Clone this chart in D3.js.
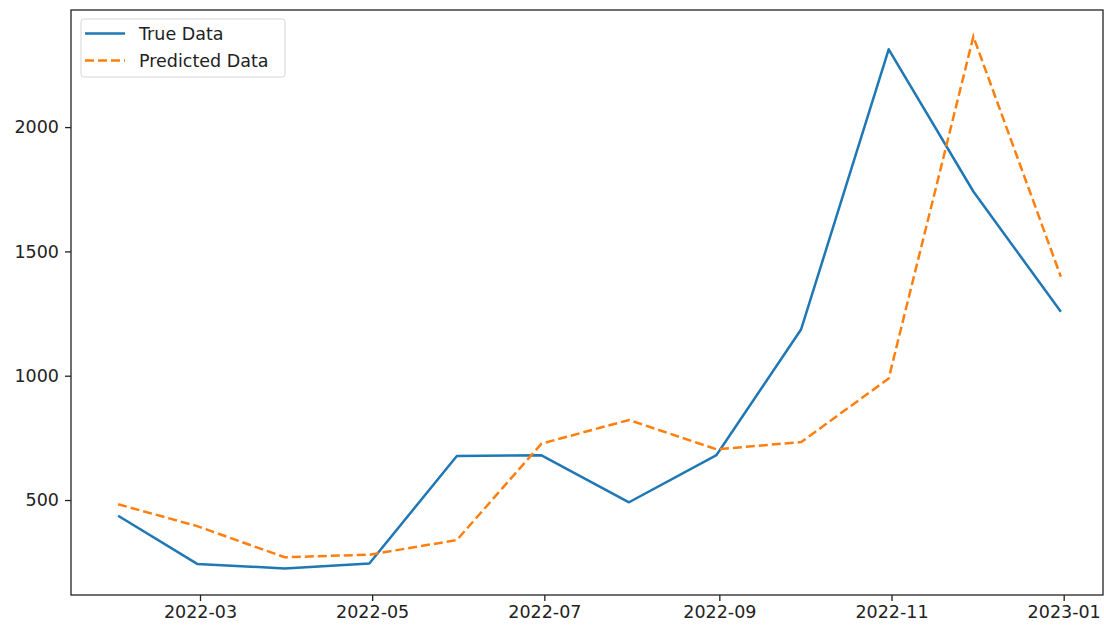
<!DOCTYPE html>
<html>
<head>
<meta charset="utf-8">
<script src="https://cdn.jsdelivr.net/npm/d3@7"></script>
<style>
  html, body { margin: 0; padding: 0; background: #fff; }
  svg { display: block; font-family: "DejaVu Sans", sans-serif; }
</style>
</head>
<body>
<svg id="chart" width="1104" height="628"></svg>
<script>
// Monthly observations (month-end dates)
const dates = ["2022-01-31","2022-02-28","2022-03-31","2022-04-30","2022-05-31","2022-06-30",
               "2022-07-31","2022-08-31","2022-09-30","2022-10-31","2022-11-30","2022-12-31"];
const trueValues = [437, 243, 225, 245, 677, 680, 491, 681, 1187, 2313, 1741, 1257];
const predictedValues = [483, 395, 270, 280, 339, 727, 822, 704, 733, 989, 2364, 1398];
const xTickLabels = ["2022-03","2022-05","2022-07","2022-09","2022-11","2023-01"];
const yTickValues = [500, 1000, 1500, 2000];
const seriesNames = ["True Data", "Predicted Data"];

const parse = d3.utcParse("%Y-%m-%d");
const parseMonth = d3.utcParse("%Y-%m");
const xDates = dates.map(parse);

const svg = d3.select("#chart");
const margin = { left: 71, top: 10, right: 1, bottom: 33 };
const W = 1104, H = 628;

// Axis extents with 5% padding on each side of the data
const xExt = d3.extent(xDates);
const xPad = (xExt[1] - xExt[0]) * 0.05;
const allVals = trueValues.concat(predictedValues);
const yExt = d3.extent(allVals);
const yPad = (yExt[1] - yExt[0]) * 0.05;

const x = d3.scaleUtc()
  .domain([new Date(+xExt[0] - xPad), new Date(+xExt[1] + xPad)])
  .range([margin.left, 1108]);
const y = d3.scaleLinear()
  .domain([yExt[0] - yPad, yExt[1] + yPad])
  .range([H - margin.bottom, margin.top]);

const fontSize = 17.5;

// Axes
const xAxis = d3.axisBottom(x)
  .tickValues(xTickLabels.map(parseMonth))
  .tickFormat(d3.utcFormat("%Y-%m"))
  .tickSize(6).tickPadding(5);
const gx = svg.append("g")
  .attr("transform", `translate(0,${H - margin.bottom})`)
  .call(xAxis);
gx.select(".domain").remove();
gx.selectAll("text").attr("font-size", fontSize).attr("fill", "#222").attr("font-family", "DejaVu Sans");
gx.selectAll("line").attr("stroke", "#222").attr("stroke-width", 1.3);

const yAxis = d3.axisLeft(y)
  .tickValues(yTickValues)
  .tickFormat(d3.format("d"))
  .tickSize(6).tickPadding(6);
const gy = svg.append("g")
  .attr("transform", `translate(${margin.left},0)`)
  .call(yAxis);
gy.select(".domain").remove();
gy.selectAll("text").attr("font-size", fontSize).attr("fill", "#222").attr("font-family", "DejaVu Sans");
gy.selectAll("line").attr("stroke", "#222").attr("stroke-width", 1.3);

// Plot frame
const x0 = x.range()[0], x1 = 1103, y0 = y.range()[1], y1 = y.range()[0];
svg.append("rect")
  .attr("x", x0).attr("y", y0)
  .attr("width", x1 - x0).attr("height", y1 - y0)
  .attr("fill", "none").attr("stroke", "#222").attr("stroke-width", 1.3);

// Series lines
const line = d3.line().x((d, i) => x(xDates[i])).y(d => y(d));
svg.append("path")
  .datum(trueValues)
  .attr("d", line)
  .attr("fill", "none")
  .attr("stroke", "#1f77b4")
  .attr("stroke-width", 2.5)
  .attr("stroke-linejoin", "round");
svg.append("path")
  .datum(predictedValues)
  .attr("d", line)
  .attr("fill", "none")
  .attr("stroke", "#ff7f0e")
  .attr("stroke-width", 2.5)
  .attr("stroke-dasharray", "9,4");

// Legend
const legend = svg.append("g").attr("transform", "translate(81,19)");
legend.append("rect")
  .attr("width", 204).attr("height", 58)
  .attr("rx", 3)
  .attr("fill", "#fff").attr("fill-opacity", 0.8)
  .attr("stroke", "#d5d5d5").attr("stroke-width", 1);
const styles = [
  { color: "#1f77b4", dash: null },
  { color: "#ff7f0e", dash: "9,4" }
];
seriesNames.forEach((name, i) => {
  const ly = 14.5 + i * 27;
  legend.append("line")
    .attr("x1", 4).attr("x2", 44).attr("y1", ly).attr("y2", ly)
    .attr("stroke", styles[i].color).attr("stroke-width", 2.5)
    .attr("stroke-dasharray", styles[i].dash);
  legend.append("text")
    .attr("x", 58).attr("y", ly).attr("dy", "0.35em")
    .attr("font-size", fontSize).attr("fill", "#222")
    .text(name);
});
</script>
</body>
</html>
